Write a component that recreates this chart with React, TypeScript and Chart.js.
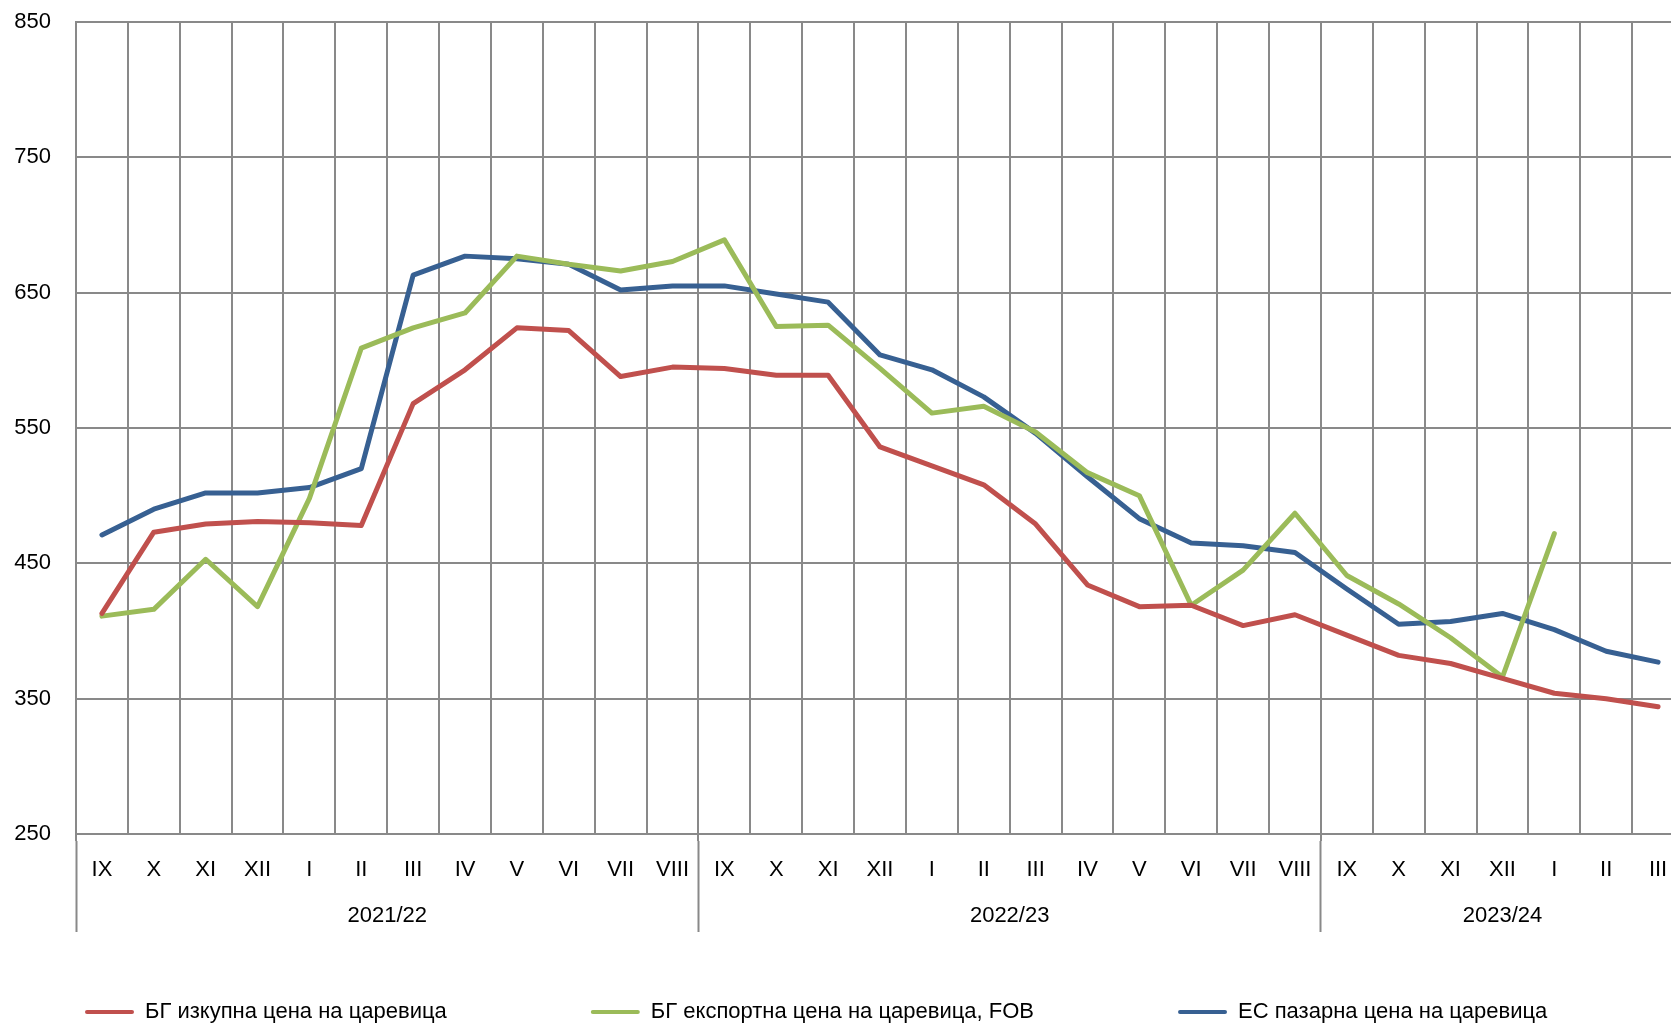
import React, { useEffect, useRef } from "react";
import { Chart, registerables } from "chart.js";

Chart.register(...registerables);

const months: string[] = [
  "IX", "X", "XI", "XII", "I", "II", "III", "IV", "V", "VI", "VII", "VIII",
  "IX", "X", "XI", "XII", "I", "II", "III", "IV", "V", "VI", "VII", "VIII",
  "IX", "X", "XI", "XII", "I", "II", "III",
];

const marketingYears: string[] = ["2021/22", "2022/23", "2023/24"];
const monthsPerYear: number[] = [12, 12, 7];

const bgPurchasePrice: (number | null)[] = [
  413, 473, 479, 481, 480, 478, 568, 593, 624, 622, 588, 595,
  594, 589, 589, 536, 522, 508, 479, 434, 418, 419, 404, 412,
  397, 382, 376, 365, 354, 350, 344,
];

const bgExportPriceFob: (number | null)[] = [
  411, 416, 453, 418, 498, 609, 624, 635, 677, 671, 666, 673,
  689, 625, 626, 594, 561, 566, 547, 517, 500, 419, 445, 487,
  441, 420, 395, 366, 472, null, null,
];

const euMarketPrice: (number | null)[] = [
  471, 490, 502, 502, 506, 520, 663, 677, 675, 671, 652, 655,
  655, 649, 643, 604, 593, 573, 546, 514, 483, 465, 463, 458,
  431, 405, 407, 413, 401, 385, 377,
];

const seriesLabels: string[] = [
  "БГ изкупна цена на царевица",
  "БГ експортна цена на царевица, FOB",
  "ЕС пазарна цена на царевица",
];

const yTicks: number[] = [250, 350, 450, 550, 650, 750, 850];

const COLORS = ["#C0504D", "#9BBB59", "#376092"];
const GRID = "#898989";
const FONT_FAMILY = "'Liberation Sans', Arial, sans-serif";
const FONT_SIZE = 22;

const SHIFT = 59; // canvas shifted left so the legend starts where the reference's does
const RIGHT_SPARE = 100; // hidden room on the right so the legend fits on one row
const PLOT_RIGHT = 1684; // the reference plot runs past the window edge
const CANVAS_W = PLOT_RIGHT + SHIFT + RIGHT_SPARE;
const CANVAS_H = 1025;

export default function App() {
  const ref = useRef<HTMLCanvasElement | null>(null);

  useEffect(() => {
    const canvas = ref.current;
    if (!canvas) return;

    const separators: number[] = [];
    const centers: { v: number; label: string }[] = [];
    let start = 0;
    monthsPerYear.forEach((n, i) => {
      separators.push(start - 0.5);
      centers.push({ v: start + n / 2 - 0.5, label: marketingYears[i] });
      start += n;
    });
    const sepIndices = separators.map((s) => s + 0.5);
    const yearTickValues = [...separators, ...centers.map((c) => c.v), start - 0.5].sort((a, b) => a - b);

    const font = { family: FONT_FAMILY, size: FONT_SIZE };

    const chart = new Chart(canvas, {
      type: "line",
      data: {
        labels: months,
        datasets: [bgPurchasePrice, bgExportPriceFob, euMarketPrice].map((d, i) => ({
          label: seriesLabels[i],
          data: d,
          borderColor: COLORS[i],
          backgroundColor: COLORS[i],
          borderWidth: 5,
          pointRadius: 0,
          tension: 0,
          spanGaps: false,
          borderJoinStyle: "round" as const,
          borderCapStyle: "round" as const,
        })),
      },
      options: {
        responsive: false,
        animation: false,
        devicePixelRatio: 1,
        layout: { padding: { top: 22, left: 0, right: 0, bottom: 0 } },
        plugins: {
          tooltip: { enabled: false },
          legend: {
            position: "bottom",
            align: "start",
            maxHeight: 168,
            labels: {
              padding: 144,
              boxWidth: 49,
              boxHeight: 4,
              color: "#000",
              font,
              generateLabels: (ch: any) =>
                ch.data.datasets.map((ds: any, i: number) => ({
                  text: ds.label,
                  fillStyle: ds.borderColor,
                  strokeStyle: ds.borderColor,
                  lineWidth: 0,
                  borderRadius: 2,
                  hidden: false,
                  datasetIndex: i,
                })),
            },
          },
        },
        scales: {
          x: {
            type: "category",
            offset: true,
            position: "bottom",
            grid: {
              offset: true,
              color: GRID,
              lineWidth: 2,
              tickLength: 7,
              tickWidth: 2,
              tickColor: (ctx: any) =>
                ctx.index !== undefined && sepIndices.includes(ctx.index) ? GRID : "rgba(0,0,0,0)",
            },
            border: { display: true, color: GRID, width: 2 },
            ticks: {
              autoSkip: false,
              maxRotation: 0,
              minRotation: 0,
              mirror: true,
              padding: -48.7,
              color: "#000",
              font,
            },
            afterFit: (s: any) => {
              s.height = 7;
            },
          },
          x2: {
            type: "linear",
            position: "bottom",
            min: -0.5,
            max: start - 0.5,
            afterBuildTicks: (s: any) => {
              s.ticks = yearTickValues.map((v) => ({ value: v }));
            },
            grid: {
              drawOnChartArea: false,
              tickLength: 91,
              tickWidth: 2,
              tickColor: (ctx: any) =>
                ctx.tick && separators.includes(ctx.tick.value) ? GRID : "rgba(0,0,0,0)",
            },
            border: { display: false },
            ticks: {
              autoSkip: false,
              maxRotation: 0,
              minRotation: 0,
              mirror: true,
              padding: -88.6,
              color: "#000",
              font,
              callback: (v: any) => {
                const c = centers.find((cc) => Math.abs(cc.v - Number(v)) < 1e-6);
                return c ? c.label : "";
              },
            },
            afterFit: (s: any) => {
              s.height = 16;
            },
          },
          y: {
            type: "linear",
            min: 250,
            max: 850,
            afterBuildTicks: (s: any) => {
              s.ticks = yTicks.map((v) => ({ value: v }));
            },
            grid: { color: GRID, lineWidth: 2, drawTicks: false },
            border: { display: true, color: GRID, width: 2 },
            ticks: { padding: 25, color: "#000", font },
            afterFit: (s: any) => {
              s.width = 76 + SHIFT;
              s.paddingTop = 0;
              s.paddingBottom = 0;
            },
          },
          ySpare: {
            type: "linear",
            position: "right",
            min: 250,
            max: 850,
            grid: { drawOnChartArea: false, drawTicks: false },
            border: { display: false },
            ticks: { display: false },
            afterFit: (s: any) => {
              s.width = RIGHT_SPARE;
              s.paddingTop = 0;
              s.paddingBottom = 0;
            },
          },
        },
      },
    });

    return () => chart.destroy();
  }, []);

  return (
    <div
      style={{
        position: "fixed",
        left: 0,
        top: 0,
        width: 1671,
        height: 1025,
        overflow: "hidden",
        background: "#fff",
      }}
    >
      <canvas
        ref={ref}
        width={CANVAS_W}
        height={CANVAS_H}
        style={{ position: "absolute", left: -SHIFT, top: 0, width: CANVAS_W, height: CANVAS_H }}
      />
    </div>
  );
}
